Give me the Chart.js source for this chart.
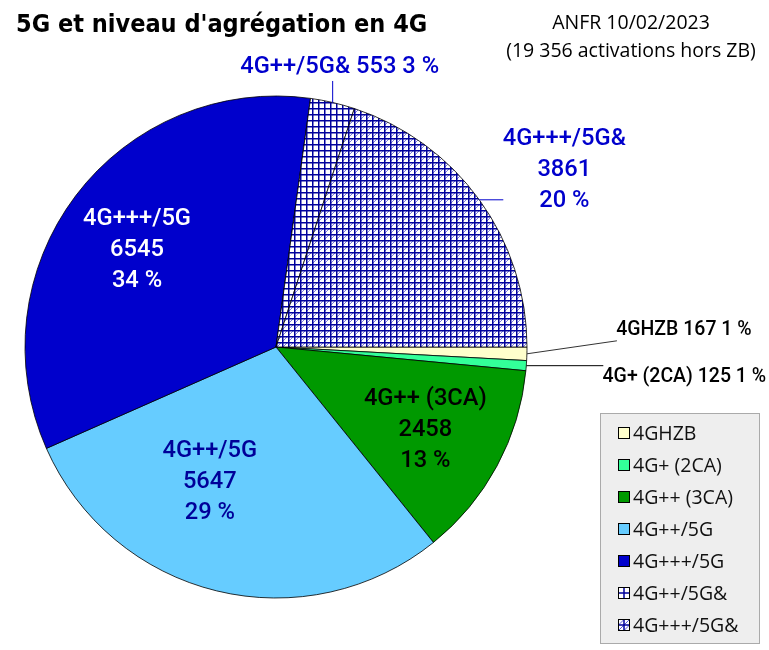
<!DOCTYPE html>
<html>
<head>
<meta charset="utf-8">
<script src="https://cdn.jsdelivr.net/npm/chart.js@4.4.1/dist/chart.umd.min.js"></script>
<style>
html,body{margin:0;padding:0;background:#fff;}
#wrap{width:769px;height:650px;position:relative;}
</style>
</head>
<body>
<div id="wrap"><canvas id="c" width="769" height="650"></canvas></div>
<script>
// ---- data ----
const categories = ["4GHZB", "4G+ (2CA)", "4G++ (3CA)", "4G++/5G", "4G+++/5G", "4G++/5G&", "4G+++/5G&"];
const activations = [167, 125, 2458, 5647, 6545, 553, 3861];
const titleText = "5G et niveau d'agrégation en 4G";
const subtitleLines = ["ANFR 10/02/2023", "(19 356 activations hors ZB)"];

// ---- styles ----
function makePattern(diag) {
  const t = document.createElement('canvas');
  t.width = 6; t.height = 6;
  const g = t.getContext('2d');
  g.fillStyle = '#ffffff'; g.fillRect(0, 0, 6, 6);
  if (diag) {
    g.strokeStyle = '#7a7ae0'; g.lineWidth = 1;
    g.beginPath(); g.moveTo(0, 6); g.lineTo(6, 0); g.stroke();
  }
  g.fillStyle = '#00009c';
  g.fillRect(0, 0, 6, 1.5);
  g.fillRect(0, 0, 1.5, 6);
  return document.getElementById('c').getContext('2d').createPattern(t, 'repeat');
}
const colors = ['#ffffcc', '#33ff99', '#009900', '#66ccff', '#0000cc', makePattern(false), makePattern(true)];
const hatchKind = [0, 0, 0, 0, 0, 1, 2];

const BIG = '500 23.7px Roboto';
const SMALL = '500 19.5px Roboto';
const labelStyle = [
  {mode: 'out', font: SMALL, color: '#000', oneLine: true, lead: [90, -13], text: [157, -24], lineColor: '#333'},
  {mode: 'out', font: SMALL, color: '#000', oneLine: true, lead: [77, 0], text: [158, 11], lineColor: '#000'},
  {mode: 'in', font: BIG, color: '#000', dAng: 0.66, f: 0.68},
  {mode: 'in', font: BIG, color: '#000099', dAng: 12.4, f: 0.6},
  {mode: 'in', font: BIG, color: '#ffffff', dAng: -2.15, f: 0.675},
  {mode: 'out', font: BIG, color: '#0000cc', oneLine: true, lead: [0, -21.5], text: [7, -35.5], lineColor: '#0000cc'},
  {mode: 'out', font: BIG, color: '#0000cc', oneLine: false, lead: [24, 0], text: [85, -30], lineColor: '#0000cc'}
];

const total = activations.reduce((a, b) => a + b, 0);

const labelPlugin = {
  id: 'sliceLabels',
  afterDatasetsDraw(chart) {
    const ctx = chart.ctx;
    const meta = chart.getDatasetMeta(0);
    ctx.save();
    ctx.textAlign = 'center';
    ctx.textBaseline = 'middle';
    meta.data.forEach((arc, i) => {
      const st = labelStyle[i];
      const v = activations[i];
      const pct = Math.round(v / total * 100) + ' %';
      const lines = st.oneLine ? [categories[i] + ' ' + v + ' ' + pct] : [categories[i], String(v), pct];
      const mid = (arc.startAngle + arc.endAngle) / 2;
      let cx, cy;
      if (st.mode === 'in') {
        const a = mid + st.dAng * Math.PI / 180;
        cx = arc.x + Math.cos(a) * arc.outerRadius * st.f;
        cy = arc.y + Math.sin(a) * arc.outerRadius * st.f;
      } else {
        const ex = arc.x + Math.cos(mid) * arc.outerRadius;
        const ey = arc.y + Math.sin(mid) * arc.outerRadius;
        ctx.strokeStyle = st.lineColor; ctx.lineWidth = 1;
        ctx.beginPath(); ctx.moveTo(ex, ey); ctx.lineTo(ex + st.lead[0], ey + st.lead[1]); ctx.stroke();
        cx = ex + st.text[0]; cy = ey + st.text[1];
      }
      ctx.font = st.font;
      ctx.fillStyle = st.color;
      const lh = 31;
      lines.forEach((ln, k) => {
        ctx.fillText(ln, cx, cy + (k - (lines.length - 1) / 2) * lh);
      });
    });
    ctx.restore();
  }
};

const decorPlugin = {
  id: 'decor',
  afterDraw(chart) {
    const ctx = chart.ctx;
    ctx.save();
    // title
    ctx.fillStyle = '#000';
    ctx.textAlign = 'left'; ctx.textBaseline = 'alphabetic';
    ctx.font = 'bold 25px "DejaVu Sans Condensed", "DejaVu Sans"';
    ctx.fillText(titleText, 16, 32);
    ctx.textAlign = 'center';
    ctx.font = '19.5px "Open Sans"';
    ctx.fillText(subtitleLines[0], 631, 29);
    ctx.fillText(subtitleLines[1], 631, 57);
    // legend
    const bx = 600.5, by = 413.5, bw = 159, bh = 230;
    ctx.fillStyle = '#eeeeee'; ctx.fillRect(bx, by, bw, bh);
    ctx.strokeStyle = '#aaaaaa'; ctx.lineWidth = 1; ctx.strokeRect(bx, by, bw, bh);
    ctx.textAlign = 'left'; ctx.textBaseline = 'middle';
    ctx.font = '19.5px "Open Sans"';
    categories.forEach((c, i) => {
      const y = 433 + i * 32;
      const sx = 618.5, sy = y - 5.5, s = 11;
      if (hatchKind[i] === 0) {
        ctx.fillStyle = colors[i];
        ctx.fillRect(sx, sy, s, s);
      } else {
        ctx.fillStyle = '#fff';
        ctx.fillRect(sx, sy, s, s);
        if (hatchKind[i] === 2) {
          ctx.strokeStyle = '#5a5ad8'; ctx.lineWidth = 1;
          ctx.beginPath(); ctx.moveTo(sx, sy + s); ctx.lineTo(sx + s, sy); ctx.stroke();
          ctx.beginPath(); ctx.moveTo(sx, sy + s / 2); ctx.lineTo(sx + s / 2, sy); ctx.stroke();
          ctx.beginPath(); ctx.moveTo(sx + s / 2, sy + s); ctx.lineTo(sx + s, sy + s / 2); ctx.stroke();
        }
        ctx.strokeStyle = '#00009c'; ctx.lineWidth = 1.5;
        ctx.beginPath();
        ctx.moveTo(sx + s / 2, sy); ctx.lineTo(sx + s / 2, sy + s);
        ctx.moveTo(sx, sy + s / 2); ctx.lineTo(sx + s, sy + s / 2);
        ctx.stroke();
      }
      ctx.lineWidth = 1;
      ctx.strokeStyle = '#000'; ctx.strokeRect(sx, sy, s, s);
      ctx.fillStyle = '#111';
      ctx.fillText(c, 633, y + 1);
    });
    ctx.restore();
  }
};

new Chart(document.getElementById('c'), {
  type: 'pie',
  data: {
    labels: categories,
    datasets: [{
      data: activations,
      backgroundColor: colors,
      borderColor: '#000',
      borderWidth: 0.8
    }]
  },
  options: {
    responsive: false,
    animation: false,
    rotation: 90,
    radius: 251,
    layout: {padding: {left: 20, right: 237, top: 90, bottom: 46}},
    plugins: {legend: {display: false}, title: {display: false}, tooltip: {enabled: false}}
  },
  plugins: [labelPlugin, decorPlugin]
});
</script>
</body>
</html>
